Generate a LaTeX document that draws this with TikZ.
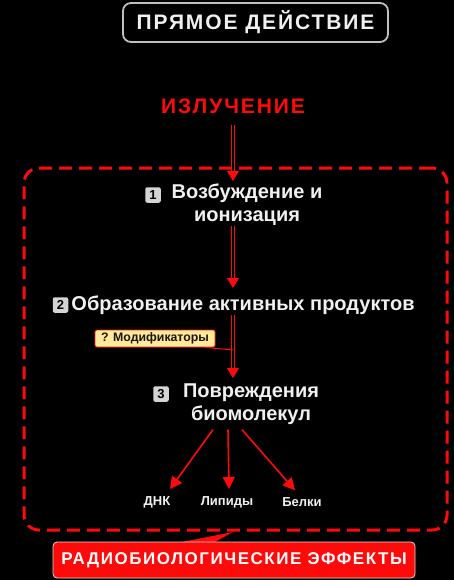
\documentclass[tikz,border=0pt]{standalone}
\usepackage{fontspec}
\setmainfont{Liberation Sans}
\newfontfamily\spaced{Liberation Sans}[LetterSpace=9]
\usetikzlibrary{arrows.meta}
\definecolor{rr}{HTML}{FF0A0A}
\definecolor{tx}{HTML}{F0F0F0}
\definecolor{nb}{HTML}{D4D4D4}
\definecolor{yl}{HTML}{FFE99A}
\tikzset{
  steptext/.style={text=tx, font=\fontsize{20}{23}\selectfont\bfseries, inner sep=0pt, align=center},
  numbox/.style={fill=nb, rounded corners=2pt, minimum size=15.5pt, inner sep=0pt, text=black, font=\fontsize{13}{13}\selectfont\bfseries},
  bigarrow/.style={draw=rr, line width=0.8pt, double=black, double distance=1.6pt, -{Triangle[length=10pt,width=12pt,fill=rr]}},
  smallarrow/.style={draw=rr, line width=1.6pt, -{Triangle[length=12pt,width=12pt]}},
  leaf/.style={text=tx, font=\fontsize{13}{13}\selectfont\bfseries, inner sep=0pt},
}
\begin{document}
\begin{tikzpicture}[x=1pt,y=-1pt]
\fill[black] (0,0) rectangle (454,580);
\useasboundingbox (0,0) rectangle (454,580);
% title
\node[draw=white!75!black, line width=1.8pt, fill=black, rounded corners=8pt, minimum width=265pt, minimum height=39pt, text=tx, font=\fontsize{21}{21}\selectfont\spaced\bfseries] (title) at (255.5,22.5) {ПРЯМОЕ ДЕЙСТВИЕ};
% radiation
\node[text=rr, font=\fontsize{21}{21}\selectfont\spaced\bfseries, inner sep=0pt] (rad) at (233,106) {ИЗЛУЧЕНИЕ};
% frame
\node[draw=rr, line width=3pt, dash pattern=on 13pt off 7pt, rounded corners=15pt, minimum width=423pt, minimum height=362pt] (frame) at (235.5,349) {};
% steps
\node[steptext] (s1) at (247,205) {Возбуждение и\\ионизация};
\node[numbox] (n1) at (153,195) {1};
\node[steptext] (s2) at (243,305) {Образование активных продуктов};
\node[numbox] (n2) at (60.5,305) {2};
\node[steptext] (s3) at (251,404) {Повреждения\\биомолекул};
\node[numbox] (n3) at (161,394) {3};
% arrows
\draw[bigarrow] ([yshift=-11pt]rad.south) -- (rad.south |- 0,181);
\draw[bigarrow] (s1.south -| rad.south) -- (rad.south |- 0,288);
\draw[bigarrow] (s2.south -| rad.south) -- (rad.south |- 0,378);
% modifiers
\node[draw=rr!80!orange, line width=0.8pt, fill=yl, rounded corners=1.5pt, minimum width=120pt, minimum height=17pt, inner sep=0pt, text=black!85!brown, font=\fontsize{12.3}{12.3}\selectfont\bfseries] (mod) at (155,338.5) {? Модификаторы};
\draw[rr, line width=1pt] ([xshift=-10pt]mod.south east) -- (rad.south |- 0,350);
% leaves
\node[leaf] (dna) at (157,502) {ДНК};
\node[leaf] (lip) at (227,502) {Липиды};
\node[leaf] (bel) at (302,502) {Белки};
\draw[smallarrow] ([xshift=-38pt,yshift=-5pt]s3.south) -- ([xshift=13pt,yshift=7pt]dna.north);
\draw[smallarrow] ([xshift=-23pt,yshift=-5pt]s3.south) -- ([xshift=2pt,yshift=7pt]lip.north);
\draw[smallarrow] ([xshift=-9pt,yshift=-5pt]s3.south) -- ([xshift=-7pt,yshift=7pt]bel.north);
% effects
\fill[rr] (177,543) .. controls (205,537) .. (233,532) -- (213,543) -- cycle;
\node[draw=white!85!black, line width=0.8pt, fill=rr, rounded corners=4pt, minimum width=362pt, minimum height=36pt, text=white, font=\fontsize{17}{17}\selectfont\spaced\bfseries] (eff) at (234,560) {РАДИОБИОЛОГИЧЕСКИЕ ЭФФЕКТЫ};
\end{tikzpicture}
\end{document}
